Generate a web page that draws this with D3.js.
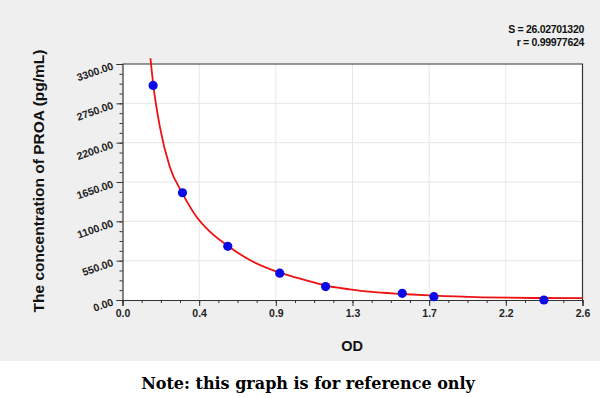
<!DOCTYPE html>
<html>
<head>
<meta charset="utf-8">
<script src="https://cdn.jsdelivr.net/npm/d3@7"></script>
<style>
body { margin: 0; background: #fff; }
text { font-family: "Liberation Sans", Arial, sans-serif; }
</style>
</head>
<body>
<svg id="chart" width="600" height="398"></svg>
<script>
// standard points (OD, concentration)
var stdOD = [0.173, 0.339, 0.595, 0.889, 1.148, 1.581, 1.760, 2.382];
var stdConc = [3000, 1500, 750, 375, 187.5, 93.75, 46.88, 0];

// fitted curve
var curveOD = [0.158, 0.173, 0.211, 0.267, 0.339, 0.418, 0.494, 0.596, 0.720, 0.889, 1.059, 1.148, 1.285, 1.398, 1.581, 1.760, 2.037, 2.319, 2.600];
var curveConc = [3380, 3030, 2425, 1864, 1490, 1164, 955, 755, 559, 382, 261, 200, 150, 116, 84, 60, 38, 28, 26];

var xTicks = [0, 0.4333, 0.8667, 1.3, 1.7333, 2.1667, 2.6];
var xTickLabels = ['0.0', '0.4', '0.9', '1.3', '1.7', '2.2', '2.6'];
var yTicks = [0, 550, 1100, 1650, 2200, 2750, 3300];
var yTickLabels = ['0.00', '550.00', '1100.00', '1650.00', '2200.00', '2750.00', '3300.00'];
var statLines = ['S = 26.02701320', 'r = 0.99977624'];

var svg = d3.select('#chart');
var plot = {left: 122.5, right: 582.5, top: 64, bottom: 300};

var x = d3.scaleLinear().domain([0, 2.6]).range([plot.left, plot.right]);
var y = d3.scaleLinear().domain([0, 3300]).range([plot.bottom, plot.top]);

// grey panel
svg.append('rect')
	.attr('x', 0).attr('y', 0)
	.attr('width', 600).attr('height', 361)
	.attr('fill', '#efefef');

svg.append('rect')
	.attr('x', plot.left).attr('y', plot.top)
	.attr('width', plot.right - plot.left).attr('height', plot.bottom - plot.top)
	.attr('fill', '#fff');

// grid
svg.append('g')
	.selectAll('line.vg')
	.data(xTicks.slice(1, -1))
	.enter()
	.append('line')
	.attr('x1', function(d) { return x(d); })
	.attr('x2', function(d) { return x(d); })
	.attr('y1', plot.top).attr('y2', plot.bottom)
	.attr('stroke', '#e6e6e6').attr('stroke-width', 1);
svg.append('g')
	.selectAll('line.hg')
	.data(yTicks.slice(1, -1))
	.enter()
	.append('line')
	.attr('y1', function(d) { return y(d); })
	.attr('y2', function(d) { return y(d); })
	.attr('x1', plot.left).attr('x2', plot.right)
	.attr('stroke', '#e6e6e6').attr('stroke-width', 1);

// frame top/right
svg.append('path')
	.attr('d', 'M' + plot.left + ',' + plot.top + 'H' + plot.right + 'V' + plot.bottom)
	.attr('fill', 'none')
	.attr('stroke', '#333')
	.attr('stroke-width', 1.2);

// minor ticks
var xMinor = d3.range(0, 25).map(function(i) { return i * 2.6 / 24; });
var yMinor = d3.range(0, 25).map(function(i) { return i * 3300 / 24; });

svg.append('g')
	.attr('transform', 'translate(0,' + plot.bottom + ')')
	.call(d3.axisBottom(x).tickValues(xMinor).tickSize(3).tickFormat(''))
	.call(function(g) { g.select('.domain').remove(); g.selectAll('line').attr('stroke', '#333'); });
svg.append('g')
	.attr('transform', 'translate(' + plot.left + ',0)')
	.call(d3.axisLeft(y).tickValues(yMinor).tickSize(3).tickFormat(''))
	.call(function(g) { g.select('.domain').remove(); g.selectAll('line').attr('stroke', '#333'); });

// major axes
var xAxis = svg.append('g')
	.attr('transform', 'translate(0,' + plot.bottom + ')')
	.call(d3.axisBottom(x).tickValues(xTicks).tickSizeOuter(0).tickSize(6).tickPadding(4)
		.tickFormat(function(d, i) { return xTickLabels[i]; }));
xAxis.select('.domain').attr('stroke', '#333').attr('stroke-width', 1.2);
xAxis.selectAll('line').attr('stroke', '#333');
xAxis.selectAll('text')
	.attr('fill', '#222')
	.style('font-size', '10.5px')
	.style('font-weight', 'bold');

var yAxis = svg.append('g')
	.attr('transform', 'translate(' + plot.left + ',0)')
	.call(d3.axisLeft(y).tickValues(yTicks).tickSizeOuter(0).tickSize(6)
		.tickFormat(function(d, i) { return yTickLabels[i]; }));
yAxis.select('.domain').attr('stroke', '#333').attr('stroke-width', 1.2);
yAxis.selectAll('line').attr('stroke', '#333');
yAxis.selectAll('text')
	.attr('x', -10)
	.attr('dy', '0.45em')
	.attr('transform', 'rotate(-19,-10,0)')
	.attr('fill', '#222')
	.style('font-size', '10.5px')
	.style('font-weight', 'bold');

// fitted curve
var curveData = curveOD.map(function(d, i) { return [d, curveConc[i]]; });
svg.append('path')
	.datum(curveData)
	.attr('fill', 'none')
	.attr('stroke', '#ee1111')
	.attr('stroke-width', 1.8)
	.attr('d', d3.line()
		.x(function(d) { return x(d[0]); })
		.y(function(d) { return y(d[1]); })
		.curve(d3.curveMonotoneX));

// points
svg.append('g')
	.selectAll('circle')
	.data(stdOD)
	.enter()
	.append('circle')
	.attr('cx', function(d) { return x(d); })
	.attr('cy', function(d, i) { return y(stdConc[i]); })
	.attr('r', 4.6)
	.attr('fill', '#0a0ae6');

// titles
svg.append('text')
	.attr('x', 352).attr('y', 351)
	.attr('text-anchor', 'middle')
	.style('font-size', '14.5px')
	.style('font-weight', 'bold')
	.attr('fill', '#111')
	.text('OD');

svg.append('text')
	.attr('transform', 'translate(44,181) rotate(-90)')
	.attr('text-anchor', 'middle')
	.style('font-size', '15.5px')
	.style('font-weight', 'bold')
	.attr('fill', '#111')
	.text('The concentration of PROA (pg/mL)');

svg.append('g')
	.selectAll('text')
	.data(statLines)
	.enter()
	.append('text')
	.attr('x', 584)
	.attr('y', function(d, i) { return 33 + i * 13; })
	.attr('text-anchor', 'end')
	.style('font-size', '10.5px')
	.style('font-weight', 'bold')
	.style('letter-spacing', '-0.3px')
	.attr('fill', '#111')
	.text(function(d) { return d; });

svg.append('text')
	.attr('x', 308).attr('y', 389)
	.attr('text-anchor', 'middle')
	.style('font-family', '"DejaVu Serif", "Liberation Serif", serif')
	.style('font-size', '16px')
	.style('font-weight', 'bold')
	.attr('fill', '#000')
	.text('Note: this graph is for reference only');
</script>
</body>
</html>
